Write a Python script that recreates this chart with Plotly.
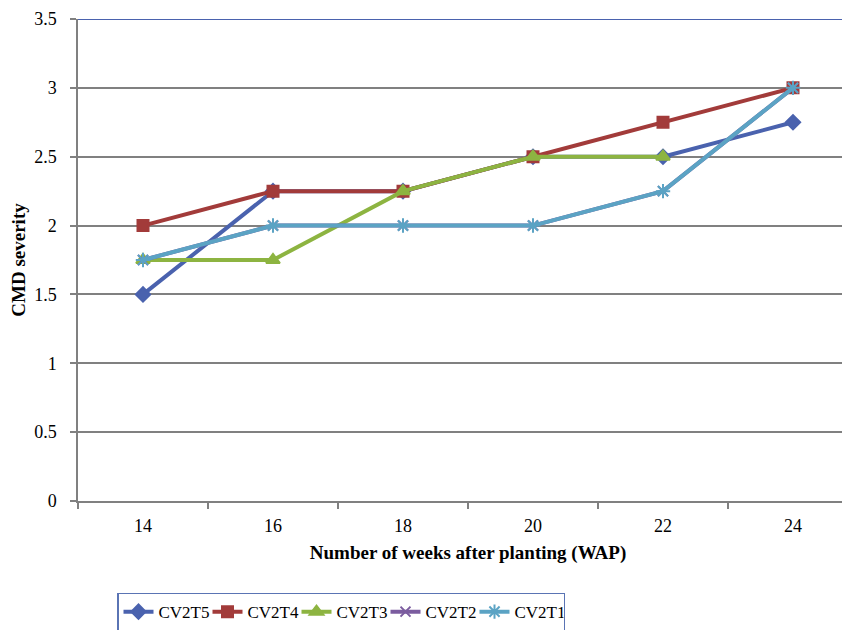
import plotly.graph_objects as go

weeks = [14, 16, 18, 20, 22, 24]
cv2t5 = [1.5, 2.25, 2.25, 2.5, 2.5, 2.75]
cv2t4 = [2.0, 2.25, 2.25, 2.5, 2.75, 3.0]
cv2t3 = [1.75, 1.75, 2.25, 2.5, 2.5, None]
cv2t2 = [1.75, 2.0, 2.0, 2.0, 2.25, 3.0]
cv2t1 = [1.75, 2.0, 2.0, 2.0, 2.25, 3.0]
y_ticks = [0, 0.5, 1, 1.5, 2, 2.5, 3, 3.5]
y_labels = ["0", "0.5", "1", "1.5", "2", "2.5", "3", "3.5"]

series = [
    ("CV2T5", cv2t5, "#4A62AE", "diamond", 11),
    ("CV2T4", cv2t4, "#A23B3A", "square", 11),
    ("CV2T3", cv2t3, "#8DB441", "triangle-up", 12),
    ("CV2T2", cv2t2, "#7B5C9F", "x-thin-open", 10),
    ("CV2T1", cv2t1, "#5BA3C4", "asterisk-open", 12),
]

FF = "Liberation Serif, Times New Roman, serif"

fig = go.Figure()
for name, vals, col, sym, sz in series:
    fig.add_trace(go.Scatter(
        x=weeks, y=vals, name=name, mode="lines+markers",
        line=dict(color=col, width=4),
        marker=dict(symbol=sym, size=sz, color=col,
                    line=dict(color=col, width=2)),
        connectgaps=False,
    ))

fig.update_layout(
    width=850, height=630,
    margin=dict(l=70, r=0, t=11, b=137),
    paper_bgcolor="white", plot_bgcolor="white",
    font=dict(family=FF, size=18, color="black"),
    showlegend=True,
    legend=dict(
        orientation="h", x=0.05, y=-0.19, xanchor="left", yanchor="top",
        bordercolor="#5A74B4", borderwidth=1.5, bgcolor="white",
        font=dict(family=FF, size=17, color="black"),
        entrywidth=44, entrywidthmode="pixels",
        itemwidth=30, tracegroupgap=0,
    ),
    xaxis=dict(
        range=[13, 25], tickmode="array", tickvals=weeks,
        ticktext=[str(w) for w in weeks], ticks="",
        showgrid=False, zeroline=False, automargin=False,
        showline=True, linecolor="#808080", linewidth=1.5,
        minor=dict(tick0=13, dtick=2, ticks="outside", ticklen=6,
                   tickcolor="#808080", tickwidth=1.5, showgrid=False),
        tickfont=dict(family=FF, size=18), ticklabelstandoff=8,
        title=dict(text="<b>Number of weeks after planting (WAP)</b>",
                   font=dict(family=FF, size=19), standoff=10),
    ),
    yaxis=dict(
        range=[0, 3.5], tickmode="array", tickvals=y_ticks, ticktext=y_labels,
        ticks="outside", ticklen=6, tickcolor="#808080", tickwidth=1.5,
        showgrid=True, gridcolor="#808080", gridwidth=1.5, automargin=False,
        zeroline=False, showline=True, linecolor="#808080", linewidth=1.5,
        tickfont=dict(family=FF, size=18), ticklabelstandoff=10,
        ticklabeloverflow="allow",
        title=dict(text="<b>CMD severity</b>", font=dict(family=FF, size=19), standoff=6),
    ),
    shapes=[dict(type="line", xref="paper", yref="y", x0=0, x1=1, y0=3.5, y1=3.5,
                 line=dict(color="#4A62AE", width=2))],
)

fig.write_html("out.html")
